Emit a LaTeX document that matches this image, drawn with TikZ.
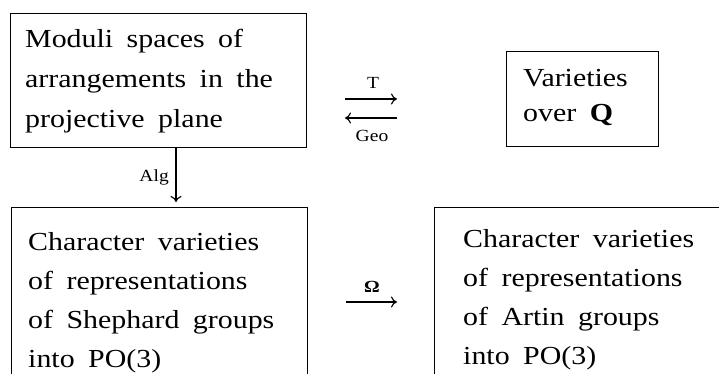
\documentclass[tikz,border=0pt]{standalone}
\usepackage{fontspec}
\setmainfont{Liberation Serif}[FakeStretch=1.15,WordSpace=1.8]
\usetikzlibrary{arrows.meta}
\begin{document}
\begin{tikzpicture}[x=1pt,y=-1pt,
  boxnode/.style={draw,line width=1.3pt,inner sep=0pt,anchor=north west},
  txt/.style={inner sep=0pt,align=left,anchor=base west},
  big/.style={font=\fontsize{26}{40}\selectfont},
  bigb/.style={font=\fontsize{26}{35}\selectfont},
  bigc/.style={font=\fontsize{26}{39}\selectfont},
  lab/.style={inner sep=0pt,font=\fontsize{17}{19}\selectfont},
  arr/.style={line width=1.1pt,-{Computer Modern Rightarrow[length=6pt,width=11pt]}}]
\useasboundingbox (0,0) rectangle (719,374);
\clip (0,0) rectangle (719,374);
% boxes
\node[boxnode,minimum width=296pt,minimum height=134pt] (A) at (10,13) {};
\node[boxnode,minimum width=152pt,minimum height=95pt] (B) at (506,51) {};
\node[boxnode,minimum width=296pt,minimum height=190pt] (C) at (11,207) {};
\node[boxnode,minimum width=300pt,minimum height=190pt] (D) at (434,207) {};
% texts (anchored at the baseline of the last line)
\node[txt,big] (At) at (25,128) {Moduli spaces of\\arrangements in the\\projective plane};
\node[txt,bigb] (Bt) at (523,122) {Varieties\\over \textbf{Q}};
\node[txt,bigc] (Ct) at (28,367) {Character varieties\\of representations\\of Shephard groups\\into PO(3)};
\node[txt,bigc] (Dt) at (463,364) {Character varieties\\of representations\\of Artin groups\\into PO(3)};
% arrows
\coordinate (t1) at (345,99); \coordinate (t2) at (397,99);
\coordinate (g1) at (397,118); \coordinate (g2) at (345,118);
\coordinate (o1) at (346,302); \coordinate (o2) at (397,302);
\coordinate (a1) at (176,147); \coordinate (a2) at (176,202);
\draw[arr] (t1) -- (t2);
\draw[arr] (g1) -- (g2);
\draw[arr] (o1) -- (o2);
\draw[arr] (a1) -- (a2);
% labels
\node[lab,anchor=base] (T) at (373,89) {T};
\node[lab,anchor=base] (Geo) at (372,142) {Geo};
\node[lab,anchor=base east] (Alg) at (169,182) {Alg};
\node[lab,anchor=base] (Om) at (372,292) {\textbf{Ω}};
\end{tikzpicture}
\end{document}
